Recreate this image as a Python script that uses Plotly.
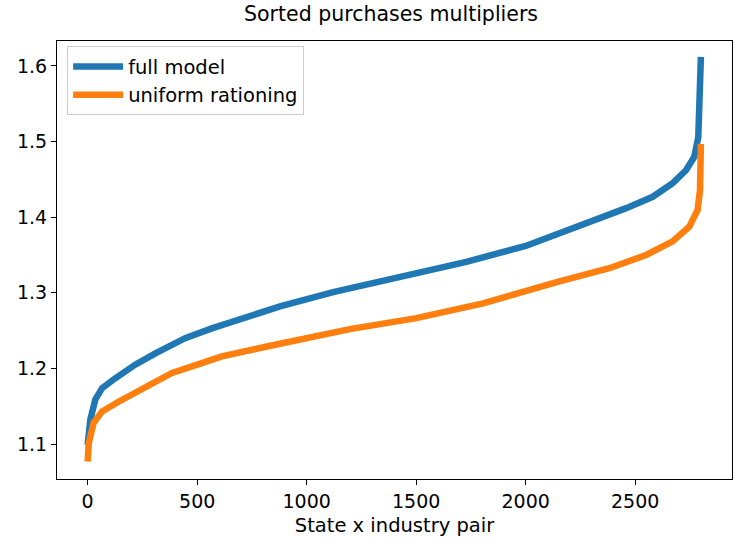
import plotly.graph_objects as go

# sorted multipliers (index of state x industry pair)
full_x = [0, 12, 35, 66, 126, 217, 309, 445, 567, 700, 878, 1121, 1425, 1729,
          2000, 2154, 2306, 2459, 2580, 2671, 2732, 2770, 2788, 2796, 2800]
full_y = [1.099, 1.132, 1.159, 1.174, 1.187, 1.205, 1.220, 1.240, 1.253, 1.265,
          1.282, 1.301, 1.321, 1.341, 1.362, 1.379, 1.394, 1.412, 1.427, 1.445,
          1.462, 1.480, 1.506, 1.555, 1.612]

unif_x = [0, 5, 27, 66, 141, 248, 385, 521, 613, 818, 1000, 1197, 1501, 1805,
          2154, 2382, 2550, 2671, 2747, 2785, 2796, 2799, 2800]
unif_y = [1.077, 1.101, 1.128, 1.143, 1.156, 1.172, 1.194, 1.207, 1.216, 1.229,
          1.241, 1.252, 1.2665, 1.286, 1.315, 1.3325, 1.350, 1.368, 1.3875, 1.4095,
          1.436, 1.46, 1.497]

font = "DejaVu Sans"

fig = go.Figure()
fig.add_trace(go.Scatter(x=full_x, y=full_y, mode="lines", name="full model",
                         line=dict(color="#1f77b4", width=6.5)))
fig.add_trace(go.Scatter(x=unif_x, y=unif_y, mode="lines", name="uniform rationing",
                         line=dict(color="#ff7f0e", width=6.5)))

axis_style = dict(showline=True, linecolor="black", linewidth=1.2, mirror=True,
                  ticks="outside", ticklen=5, tickcolor="black", showgrid=False,
                  zeroline=False, automargin=False,
                  tickfont=dict(size=19, color="black"))

fig.update_layout(
    width=735, height=542,
    plot_bgcolor="white", paper_bgcolor="white",
    font=dict(family=font, color="black"),
    margin=dict(l=57, r=3, t=41, b=63),
    title=dict(text="Sorted purchases multipliers", x=0.532, xanchor="center",
               y=0.974, yanchor="middle", font=dict(size=20.5)),
    xaxis=dict(range=[-140, 2942], tickvals=[0, 500, 1000, 1500, 2000, 2500],
               title=dict(text="State x industry pair", font=dict(size=19.5), standoff=7),
               **axis_style),
    yaxis=dict(range=[1.0538, 1.633], tickvals=[1.1, 1.2, 1.3, 1.4, 1.5, 1.6],
               tickformat=".1f", **axis_style),
    legend=dict(x=0.015, y=0.988, xanchor="left", yanchor="top",
                bgcolor="rgba(255,255,255,0.8)", bordercolor="#cccccc", borderwidth=1,
                font=dict(size=19.5), tracegroupgap=0, itemwidth=50),
    showlegend=True,
)

# drop the browser's default page margin so the figure sits at the window corner
fig.write_html("out.html", config={"displayModeBar": False},
               post_script="document.body.style.margin='0';")
